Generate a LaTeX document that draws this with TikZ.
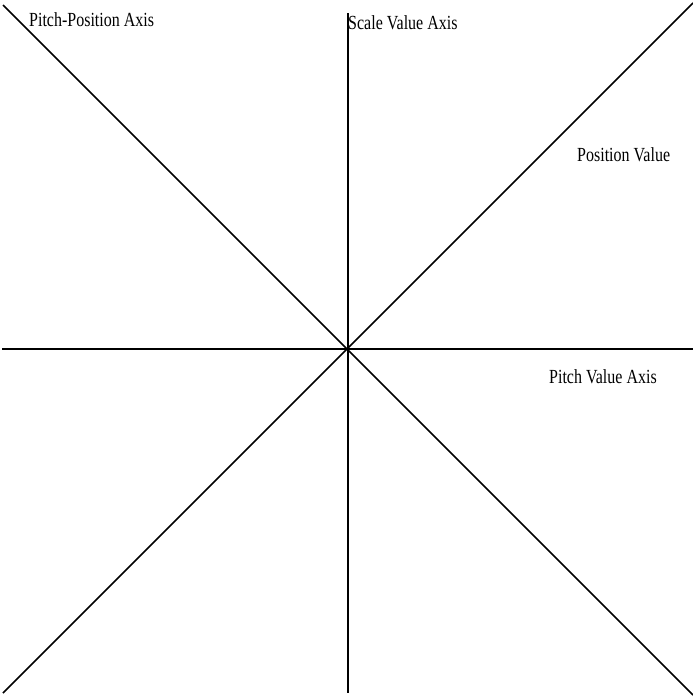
\documentclass[tikz,border=0pt]{standalone}
\usepackage{fontspec}
\newfontfamily\lblfont{Liberation Serif}[FakeStretch=0.8]
\begin{document}
\begin{tikzpicture}[x=1pt,y=-1pt,
  axis/.style={line width=1.5pt,black},
  lbl/.style={anchor=base west,inner sep=0pt,font=\lblfont\fontsize{20}{20}\selectfont}]
\useasboundingbox (0,0) rectangle (693,696);
\coordinate (vt) at (348,13);
\coordinate (vb) at (348,693);
\coordinate (hl) at (2,349);
\coordinate (hr) at (693,349);
\coordinate (d1a) at (3,5);
\coordinate (d1b) at (693,695);
\coordinate (d2a) at (3,693);
\coordinate (d2b) at (693,3);
\draw[axis] (vt) -- (vb);
\draw[axis] (hl) -- (hr);
\draw[axis] (d1a) -- (d1b);
\draw[axis] (d2a) -- (d2b);
\node[lbl] (pp) at (29,27) {Pitch-Position Axis};
\node[lbl] (sv) at (348,29) {Scale Value Axis};
\node[lbl] (pv) at (577,161) {Position Value};
\node[lbl] (pa) at (549,383) {Pitch Value Axis};
\end{tikzpicture}
\end{document}
